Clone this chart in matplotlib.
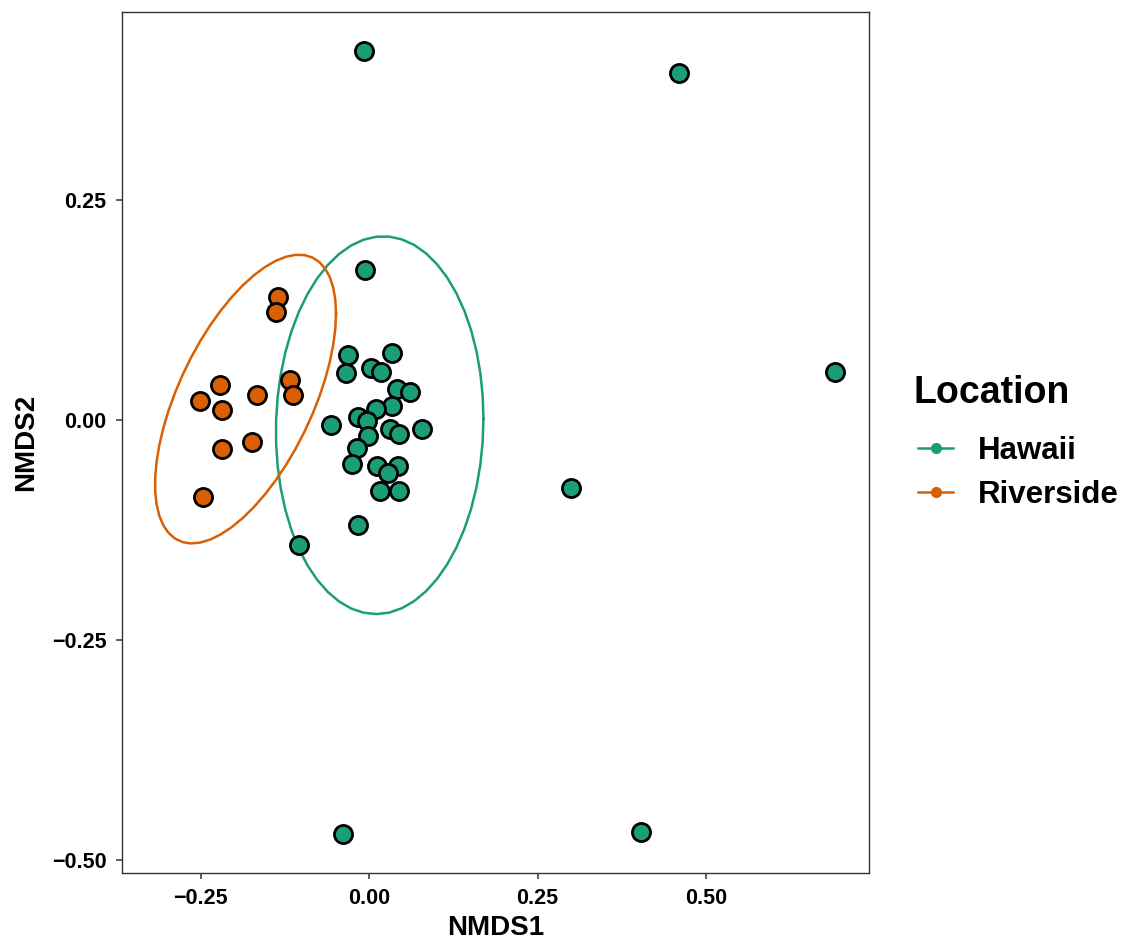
import numpy as np
import matplotlib
matplotlib.use("Agg")
import matplotlib.pyplot as plt
from matplotlib.lines import Line2D

# NMDS scores
hawaii_x = [-0.006, -0.008, 0.460, 0.692, 0.300, -0.039, 0.403,
            -0.031, 0.034, -0.035, 0.003, 0.018, 0.042, 0.061, 0.034,
            0.010, -0.016, -0.003, -0.057, 0.031, 0.044, 0.078, -0.002,
            -0.018, -0.025, 0.012, 0.043, 0.028, 0.016, 0.044, -0.016, -0.104]
hawaii_y = [0.171, 0.420, 0.395, 0.055, -0.077, -0.471, -0.468,
            0.074, 0.076, 0.054, 0.059, 0.055, 0.035, 0.032, 0.016,
            0.013, 0.003, -0.001, -0.006, -0.010, -0.016, -0.010, -0.018,
            -0.032, -0.050, -0.052, -0.052, -0.060, -0.081, -0.081, -0.119, -0.142]
riverside_x = [-0.135, -0.138, -0.222, -0.251, -0.219, -0.166, -0.118,
               -0.113, -0.219, -0.174, -0.247]
riverside_y = [0.140, 0.123, 0.040, 0.022, 0.011, 0.029, 0.045,
               0.029, -0.033, -0.025, -0.088]

locations = ["Hawaii", "Riverside"]
colors = {"Hawaii": "#1B9E77", "Riverside": "#D95F02"}
x_ticks = [-0.25, 0.00, 0.25, 0.50]
y_ticks = [-0.50, -0.25, 0.00, 0.25]


def cov_trob(xy, nu=5, maxit=25, tol=0.01):
    # port of MASS::cov.trob, as used by ggplot2 stat_ellipse
    n, p = xy.shape
    wt = np.ones(n)
    loc = xy.mean(axis=0)
    w = np.sqrt(wt)
    for _ in range(maxit):
        w0 = w
        X = xy - loc
        _, d, vt = np.linalg.svd(np.sqrt(w / w.sum())[:, None] * X, full_matrices=False)
        wX = X @ vt.T @ np.diag(1 / d)
        Q = (wX ** 2).sum(axis=1)
        w = wt * (nu + p) / (nu + Q)
        loc = (w[:, None] * xy).sum(axis=0) / w.sum()
        if np.all(np.abs(w - w0) < tol):
            break
    sX = np.sqrt(w)[:, None] * X
    return loc, sX.T @ sX / wt.sum()


def ellipse(xs, ys, level=0.95, segments=51):
    xy = np.column_stack([xs, ys])
    center, shape = cov_trob(xy)
    dfd = len(xs) - 1
    fq = dfd / 2 * ((1 - level) ** (-2 / dfd) - 1)   # qf(level, 2, dfd)
    radius = np.sqrt(2 * fq)
    ang = np.linspace(0, 2 * np.pi, segments + 1)
    circ = np.column_stack([np.cos(ang), np.sin(ang)])
    pts = center + radius * (circ @ np.linalg.cholesky(shape).T)
    return pts[:, 0], pts[:, 1]


plt.rcParams["font.family"] = ["Liberation Sans", "DejaVu Sans"]
plt.rcParams["font.weight"] = "bold"

fig = plt.figure(figsize=(11.38, 9.42), dpi=100)
ax = fig.add_axes([0.1072, 0.0732, 0.6564, 0.9141])

data = {"Hawaii": (hawaii_x, hawaii_y), "Riverside": (riverside_x, riverside_y)}
for loc in locations:
    xs, ys = data[loc]
    ex, ey = ellipse(xs, ys)
    ax.plot(ex, ey, color=colors[loc], lw=1.8, zorder=2)
for loc in locations:
    xs, ys = data[loc]
    ax.scatter(xs, ys, s=170, color=colors[loc], edgecolor="black",
               linewidth=2.0, zorder=3)

ax.set_xlim(-0.367, 0.742)
ax.set_ylim(-0.515, 0.464)
ax.set_xticks(x_ticks)
ax.set_yticks(y_ticks)
ax.set_xticklabels([f"{v:.2f}".replace("-", "\u2212") for v in x_ticks])
ax.set_yticklabels([f"{v:.2f}".replace("-", "\u2212") for v in y_ticks])
ax.tick_params(length=4.5, width=1.1, color="#333333", labelsize=15.5,
               labelcolor="black", pad=6.5)
for sp in ax.spines.values():
    sp.set_color("#333333")
    sp.set_linewidth(1.0)
ax.set_xlabel("NMDS1", fontsize=20, fontweight="bold", labelpad=4)
ax.set_ylabel("NMDS2", fontsize=20, fontweight="bold", labelpad=9)

# legend: title drawn separately so the gap to the keys can match
fig.text(0.8023, 0.5722, "Location", fontsize=27, fontweight="bold",
         ha="left", va="baseline")
handles = [Line2D([0], [0], color=colors[l], lw=1.8, marker="o", markersize=7)
           for l in locations]
fig.legend(handles, locations, loc="center left",
           bbox_to_anchor=(0.8067, 0.4979), frameon=False, fontsize=22.5,
           handlelength=1.12, handletextpad=0.8, labelspacing=0.43,
           borderpad=0, borderaxespad=0)

fig.savefig("out.png", dpi=100, facecolor="white")
